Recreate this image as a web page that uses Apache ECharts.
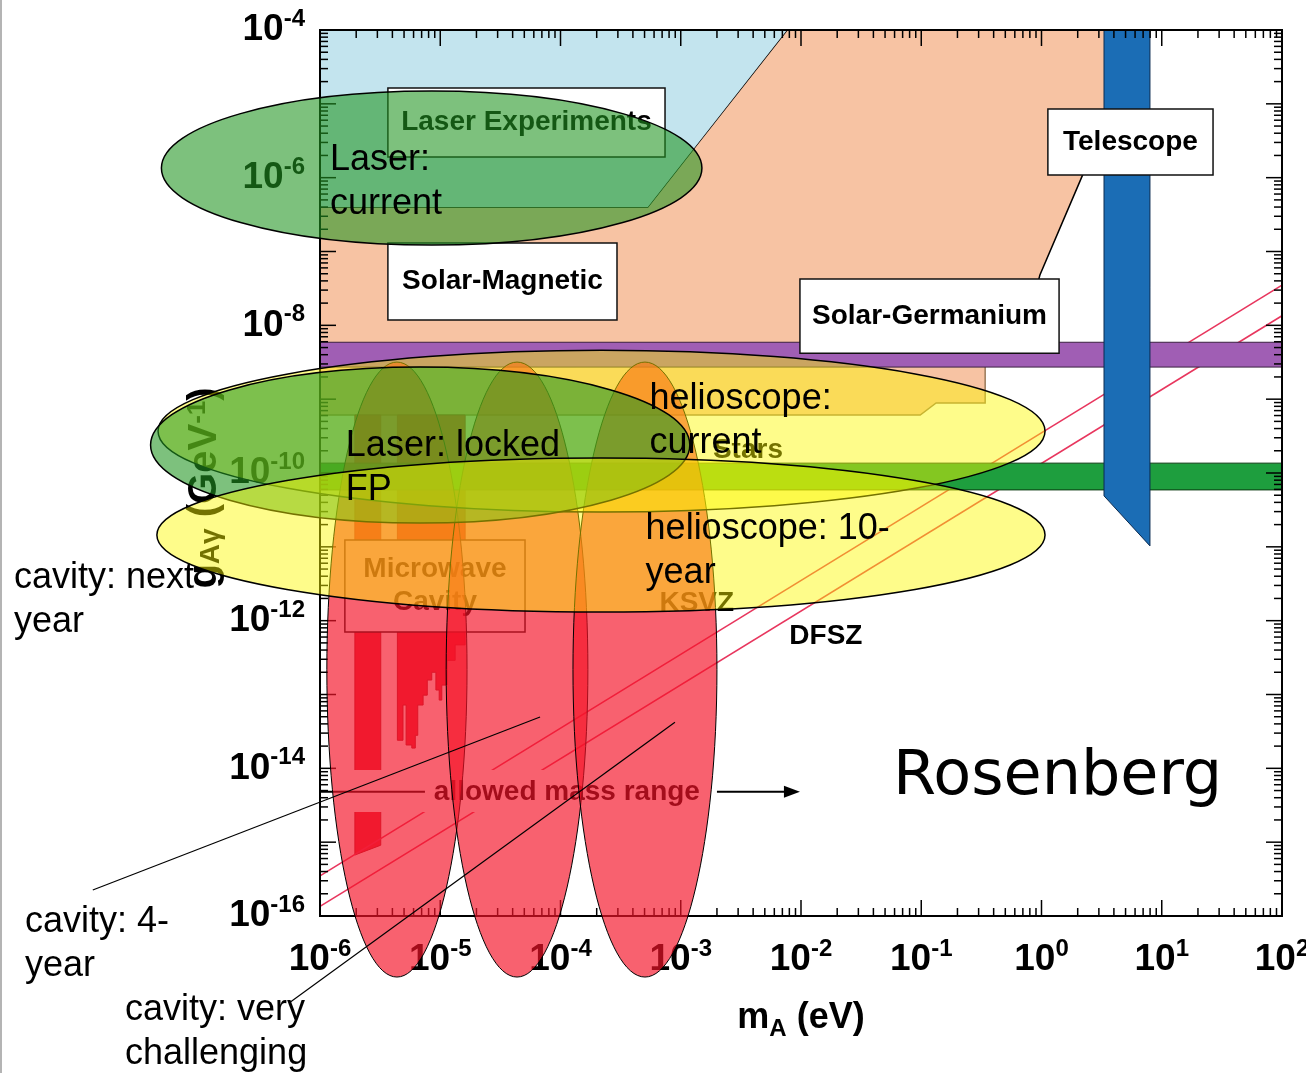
<!DOCTYPE html>
<html>
<head>
<meta charset="utf-8">
<title>Axion coupling vs mass</title>
<script src="https://cdn.jsdelivr.net/npm/echarts@6.0.0/dist/echarts.min.js"></script>
<style>
  html, body { margin: 0; padding: 0; background: #fff; }
  #chart { width: 1306px; height: 1073px; }
</style>
</head>
<body>
<div id="chart"></div>
<script>
// axis ranges, in powers of ten
const massDecades = [-6, -5, -4, -3, -2, -1, 0, 1, 2]
const couplingDecades = [-16, -15, -14, -13, -12, -11, -10, -9, -8, -7, -6, -5, -4]

// excluded regions, every point is [m_A (eV), g_Agamma (GeV^-1)]
const laserRegion = [[1e-6, 1e-4], [7.8e-3, 1e-4], [5.35e-4, 3.9e-7], [1e-6, 3.9e-7]]
const solarMagnetic = [
  [1e-6, 3.9e-7], [5.35e-4, 3.9e-7], [7.8e-3, 1e-4], [7.3, 1e-4], [2.2, 1.09e-6],
  [0.97, 4.8e-8], [0.69, 5.9e-9], [0.34, 5.9e-9], [0.34, 8.9e-10], [0.133, 8.9e-10],
  [0.098, 6.1e-10], [1e-6, 6.1e-10]
]
const solarMagneticEdge = [[7.3, 1e-4], [2.2, 1.09e-6], [0.97, 4.8e-8], [0.69, 5.9e-9]]
const castEdge = [[0.34, 2.72e-9], [0.34, 8.9e-10], [0.133, 8.9e-10], [0.098, 6.1e-10], [1e-6, 6.1e-10]]
const solarGermanium = [[1e-6, 5.9e-9], [1e2, 5.9e-9], [1e2, 2.72e-9], [1e-6, 2.72e-9]]
const hbStars = [[1e-6, 1.36e-10], [1e2, 1.36e-10], [1e2, 5.9e-11], [1e-6, 5.9e-11]]
const telescope = [[3.31, 1e-4], [7.98, 1e-4], [7.98, 1.03e-11], [3.31, 4.9e-11]]
const cavityAdmx = [[1.95e-6, 6.1e-10], [3.2e-6, 6.1e-10], [3.2e-6, 9.1e-16], [1.95e-6, 6.7e-16]]
const cavityRbf = [
  [4.4e-6, 6.1e-10], [1.61e-5, 6.1e-10], [1.61e-5, 4.7e-13], [1.33e-5, 4.7e-13],
  [1.33e-5, 2.9e-13], [1.14e-5, 2.9e-13], [1.14e-5, 1.34e-13], [1.03e-5, 1.34e-13],
  [1.03e-5, 8.4e-14], [9.8e-6, 8.4e-14], [9.8e-6, 1.15e-13], [9.2e-6, 1.15e-13],
  [9.2e-6, 2.0e-13], [8.5e-6, 2.0e-13], [8.5e-6, 1.57e-13], [7.8e-6, 1.57e-13],
  [7.8e-6, 9.8e-14], [7.2e-6, 9.8e-14], [7.2e-6, 7.2e-14], [6.5e-6, 7.2e-14],
  [6.5e-6, 2.8e-14], [6.2e-6, 2.8e-14], [6.2e-6, 1.88e-14], [5.8e-6, 1.88e-14],
  [5.8e-6, 2.07e-14], [5.2e-6, 2.07e-14], [5.2e-6, 7.2e-14], [4.9e-6, 7.2e-14],
  [4.9e-6, 2.4e-14], [4.4e-6, 2.4e-14]
]
const ksvzLine = [[1e-6, 3.5e-16], [1e2, 3.5e-8]]
const dfszLine = [[1e-6, 1.35e-16], [1e2, 1.35e-8]]

// labelled boxes: [upper-left corner, lower-right corner]
const boxLabels = ['Laser Experiments', 'Solar-Magnetic', 'Solar-Germanium', 'Telescope', 'Microwave\nCavity']
const boxCorners = [
  [[3.67e-6, 1.64e-5], [7.4e-4, 1.9e-6]],
  [[3.67e-6, 1.3e-7], [2.95e-4, 1.18e-8]],
  [[9.8e-3, 4.24e-8], [1.4, 4.2e-9]],
  [[1.13, 8.5e-6], [26.7, 1.09e-6]],
  [[1.61e-6, 1.24e-11], [5.07e-5, 7.0e-13]]
]
const plainLabels = ['Stars', 'KSVZ', 'DFSZ']
const plainLabelAt = [[3.62e-3, 2.05e-10], [1.36e-3, 1.73e-12], [1.61e-2, 6.2e-13]]

const massRangeText = 'allowed mass range'
const massRangeAt = [1.13e-4, 4.8e-15]
const massRangeBack = [[1e-6, 9.5e-15], [1.08e-2, 2.56e-15]]
const massRangeTail = [[1e-6, 4.8e-15], [7.46e-6, 4.8e-15]]
const massRangeArrow = [[2.0e-3, 4.8e-15], [9.8e-3, 4.8e-15]]

// projected reach of future searches (drawn as ellipses)
const projectionKind = ['cavity', 'cavity', 'cavity', 'helioscope', 'laser', 'helioscope', 'laser']
const projectionMass = [
  [1.14e-6, 1.67e-5], [1.12e-5, 1.69e-4], [1.27e-4, 2.0e-3],
  [4.5e-8, 1.07], [3.9e-8, 1.19e-3], [4.4e-8, 1.07], [4.8e-8, 1.5e-3]
]
const projectionCoupling = [
  [1.49e-17, 3.18e-9], [1.49e-17, 3.18e-9], [1.49e-17, 3.18e-9],
  [2.96e-11, 4.6e-9], [2.1e-11, 2.72e-9], [1.31e-12, 1.6e-10], [1.22e-7, 1.49e-5]
]
const noteTexts = [
  'Laser:\ncurrent', 'Laser: locked\nFP', 'helioscope:\ncurrent', 'helioscope: 10-\nyear',
  'cavity: next\nyear', 'cavity: 4-\nyear', 'cavity: very\nchallenging'
]
const noteAt = [
  [1.21e-6, 8.7e-7], [1.64e-6, 1.17e-10], [5.5e-4, 5.06e-10], [5.1e-4, 8.8e-12],
  [2.85e-9, 1.9e-12], [3.52e-9, 4.17e-17], [2.39e-8, 2.68e-18]
]
const leaderLines = [
  [[1.29e-8, 2.25e-16], [6.76e-5, 4.95e-14]],
  [[5.64e-7, 6.8e-18], [8.95e-4, 4.2e-14]]
]
const signature = 'Rosenberg'
const signatureAt = [5.82e-2, 7.4e-15]

const FONT = '"Liberation Sans", Arial, Helvetica, sans-serif'
const lg = Math.log10
const toLog = p => [lg(p[0]), lg(p[1])]

const kindStyle = {
  cavity: { fill: 'rgba(245,20,40,0.67)', stroke: '#000', lineWidth: 1 },
  helioscope: { fill: 'rgba(252,248,0,0.46)', stroke: '#000', lineWidth: 1.5 },
  laser: { fill: 'rgba(34,150,34,0.59)', stroke: '#000', lineWidth: 1.5 }
}

function shapeSeries(points, type, style) {
  const data = points.map(toLog)
  return {
    data,
    renderItem(params, api) {
      if (params.dataIndex > 0) return null
      return { type, shape: { points: data.map(p => api.coord(p)) }, style }
    }
  }
}

function textEl(api, at, text, font, align, lineHeight) {
  const p = api.coord(toLog(at))
  return {
    type: 'text', x: p[0], y: p[1],
    style: { text, font, fill: '#000', align, verticalAlign: 'middle', lineHeight }
  }
}

const boxSeries = {
  data: boxCorners.map(c => toLog(c[0])),
  renderItem(params, api) {
    const c = boxCorners[params.dataIndex]
    const a = api.coord(toLog(c[0]))
    const b = api.coord(toLog(c[1]))
    return {
      type: 'group',
      children: [
        { type: 'rect', shape: { x: a[0], y: a[1], width: b[0] - a[0], height: b[1] - a[1] },
          style: { fill: '#fff', stroke: '#111', lineWidth: 1.5 } },
        { type: 'text', x: (a[0] + b[0]) / 2, y: (a[1] + b[1]) / 2,
          style: { text: boxLabels[params.dataIndex], font: 'bold 28px ' + FONT, fill: '#000',
            align: 'center', verticalAlign: 'middle', lineHeight: 33 } }
      ]
    }
  }
}

const labelSeries = {
  data: plainLabelAt.map(toLog),
  renderItem(params, api) {
    return textEl(api, plainLabelAt[params.dataIndex], plainLabels[params.dataIndex], 'bold 28px ' + FONT, 'center')
  }
}

const massRangeSeries = {
  data: [toLog(massRangeAt)],
  renderItem(params, api) {
    const a = api.coord(toLog(massRangeBack[0]))
    const b = api.coord(toLog(massRangeBack[1]))
    const t0 = api.coord(toLog(massRangeTail[0]))
    const t1 = api.coord(toLog(massRangeTail[1]))
    const r0 = api.coord(toLog(massRangeArrow[0]))
    const r1 = api.coord(toLog(massRangeArrow[1]))
    return {
      type: 'group',
      children: [
        { type: 'rect', shape: { x: a[0] + 2, y: a[1], width: b[0] - a[0], height: b[1] - a[1] }, style: { fill: '#fff' } },
        { type: 'line', shape: { x1: t0[0], y1: t0[1], x2: t1[0], y2: t1[1] }, style: { stroke: '#000', lineWidth: 2 } },
        { type: 'line', shape: { x1: r0[0], y1: r0[1], x2: r1[0] - 10, y2: r1[1] }, style: { stroke: '#000', lineWidth: 2 } },
        { type: 'polygon', shape: { points: [[r1[0], r1[1]], [r1[0] - 16, r1[1] - 6], [r1[0] - 16, r1[1] + 6]] }, style: { fill: '#000' } },
        textEl(api, massRangeAt, massRangeText, 'bold 28px ' + FONT, 'center')
      ]
    }
  }
}

const frameSeries = {
  data: [[massDecades[0], couplingDecades[0]]],
  renderItem(params, api) {
    const tl = api.coord([massDecades[0], couplingDecades[couplingDecades.length - 1]])
    const br = api.coord([massDecades[massDecades.length - 1], couplingDecades[0]])
    const st = { stroke: '#000', lineWidth: 1.5 }
    const kids = [{ type: 'rect', shape: { x: tl[0], y: tl[1], width: br[0] - tl[0], height: br[1] - tl[1] },
      style: { fill: 'none', stroke: '#000', lineWidth: 2 } }]
    const steps = [1, 2, 3, 4, 5, 6, 7, 8, 9]
    massDecades.forEach((d, i) => {
      steps.forEach(k => {
        if (i === massDecades.length - 1 && k > 1) return
        const x = api.coord([d + lg(k), couplingDecades[0]])[0]
        const len = k === 1 ? 16 : 8
        kids.push({ type: 'line', shape: { x1: x, y1: br[1], x2: x, y2: br[1] - len }, style: st })
        kids.push({ type: 'line', shape: { x1: x, y1: tl[1], x2: x, y2: tl[1] + len }, style: st })
      })
    })
    couplingDecades.forEach((d, i) => {
      steps.forEach(k => {
        if (i === couplingDecades.length - 1 && k > 1) return
        const y = api.coord([massDecades[0], d + lg(k)])[1]
        const len = k === 1 ? 16 : 8
        kids.push({ type: 'line', shape: { x1: tl[0], y1: y, x2: tl[0] + len, y2: y }, style: st })
        kids.push({ type: 'line', shape: { x1: br[0], y1: y, x2: br[0] - len, y2: y }, style: st })
      })
    })
    return { type: 'group', children: kids }
  }
}

const projectionSeries = {
  data: projectionMass.map((m, i) => [lg(m[0]), lg(projectionCoupling[i][0])]),
  renderItem(params, api) {
    const i = params.dataIndex
    const a = api.coord([lg(projectionMass[i][0]), lg(projectionCoupling[i][0])])
    const b = api.coord([lg(projectionMass[i][1]), lg(projectionCoupling[i][1])])
    return {
      type: 'ellipse',
      shape: { cx: (a[0] + b[0]) / 2, cy: (a[1] + b[1]) / 2, rx: Math.abs(b[0] - a[0]) / 2, ry: Math.abs(b[1] - a[1]) / 2 },
      style: kindStyle[projectionKind[i]]
    }
  }
}

const noteSeries = {
  data: noteAt.map(toLog),
  renderItem(params, api) {
    const i = params.dataIndex
    const kids = [textEl(api, noteAt[i], noteTexts[i], '36px ' + FONT, 'left', 44)]
    if (i === 0) {
      leaderLines.forEach(l => {
        const p = api.coord(toLog(l[0]))
        const q = api.coord(toLog(l[1]))
        kids.push({ type: 'line', shape: { x1: p[0], y1: p[1], x2: q[0], y2: q[1] }, style: { stroke: '#000', lineWidth: 1.2 } })
      })
      kids.push(textEl(api, signatureAt, signature, '62px "Comic Sans MS", "DejaVu Sans", sans-serif', 'left'))
    }
    return { type: 'group', children: kids }
  }
}

const layers = [
  shapeSeries(laserRegion, 'polygon', { fill: '#c3e4ee', stroke: '#000', lineWidth: 1.5 }),
  shapeSeries(solarMagnetic, 'polygon', { fill: '#f7c3a3' }),
  shapeSeries(solarMagneticEdge, 'polyline', { fill: 'none', stroke: '#000', lineWidth: 1.5 }),
  shapeSeries(castEdge, 'polyline', { fill: 'none', stroke: '#9a7a5a', lineWidth: 1.5 }),
  shapeSeries(cavityAdmx, 'polygon', { fill: '#e8263a', stroke: '#b01828', lineWidth: 1 }),
  shapeSeries(cavityRbf, 'polygon', { fill: '#e8263a', stroke: '#b01828', lineWidth: 1 }),
  shapeSeries(ksvzLine, 'polyline', { fill: 'none', stroke: '#e8365e', lineWidth: 1.6 }),
  shapeSeries(dfszLine, 'polyline', { fill: 'none', stroke: '#e8365e', lineWidth: 1.6 }),
  shapeSeries(solarGermanium, 'polygon', { fill: '#a05eb4', stroke: '#3a2040', lineWidth: 1 }),
  shapeSeries(hbStars, 'polygon', { fill: '#1e9e3e', stroke: '#0a3a10', lineWidth: 1 }),
  shapeSeries(telescope, 'polygon', { fill: '#1b6db5', stroke: '#0a2a50', lineWidth: 1 }),
  boxSeries,
  labelSeries,
  massRangeSeries,
  frameSeries,
  projectionSeries,
  noteSeries
]

const series = layers.map((s, i) => Object.assign({ type: 'custom', z: 2 + i, clip: false, silent: true, animation: false }, s))

const tickRich = {
  b: { fontFamily: FONT, fontWeight: 'bold', fontSize: 37, color: '#000', lineHeight: 37, padding: [8, 0, 0, 0] },
  e: { fontFamily: FONT, fontWeight: 'bold', fontSize: 24, color: '#000', lineHeight: 24, verticalAlign: 'top' }
}
const tickLabel = v => '{b|10}{e|' + Math.round(v) + '}'

const chart = echarts.init(document.getElementById('chart'))
chart.setOption({
  animation: false,
  backgroundColor: '#fff',
  grid: { left: 320, right: 24, top: 30, bottom: 157, outerBoundsMode: 'none' },
  xAxis: {
    type: 'value',
    min: massDecades[0],
    max: massDecades[massDecades.length - 1],
    interval: 1,
    axisLine: { show: false },
    axisTick: { show: false },
    splitLine: { show: false },
    axisLabel: { formatter: tickLabel, rich: tickRich, margin: 21, showMinLabel: true, showMaxLabel: true },
    name: '{m|m}{s|A}{m| (eV)}',
    nameLocation: 'middle',
    nameGap: 89,
    nameTextStyle: {
      rich: {
        m: { fontFamily: FONT, fontWeight: 'bold', fontSize: 36, color: '#000', lineHeight: 36, padding: [0, 0, 10, 0] },
        s: { fontFamily: FONT, fontWeight: 'bold', fontSize: 24, color: '#000', lineHeight: 24, verticalAlign: 'bottom' }
      }
    }
  },
  yAxis: {
    type: 'value',
    min: couplingDecades[0],
    max: couplingDecades[couplingDecades.length - 1],
    interval: 1,
    axisLine: { show: false },
    axisTick: { show: false },
    splitLine: { show: false },
    axisLabel: {
      formatter: v => (Math.round(v) % 2 === 0 ? tickLabel(v) : ''),
      rich: tickRich, margin: 15, padding: [0, 0, 8, 0], showMinLabel: true, showMaxLabel: true
    },
    name: '{g|g}{s|Aγ}{g| (GeV}{p|-1}{g|)}',
    nameLocation: 'middle',
    nameRotate: 90,
    nameGap: 95,
    nameMoveOverlap: false,
    nameTextStyle: {
      padding: [0, 30, 0, 0],
      rich: {
        g: { fontFamily: FONT, fontWeight: 'bold', fontSize: 40, color: '#000', lineHeight: 40, padding: [8, 0, 8, 0] },
        s: { fontFamily: FONT, fontWeight: 'bold', fontSize: 28, color: '#000', lineHeight: 28, verticalAlign: 'bottom' },
        p: { fontFamily: FONT, fontWeight: 'bold', fontSize: 26, color: '#000', lineHeight: 26, verticalAlign: 'top' }
      }
    }
  },
  graphic: [{ type: 'rect', left: 0, top: 0, shape: { width: 2, height: 1073 }, style: { fill: '#b4b4b4' } }],
  series
})
</script>
</body>
</html>
